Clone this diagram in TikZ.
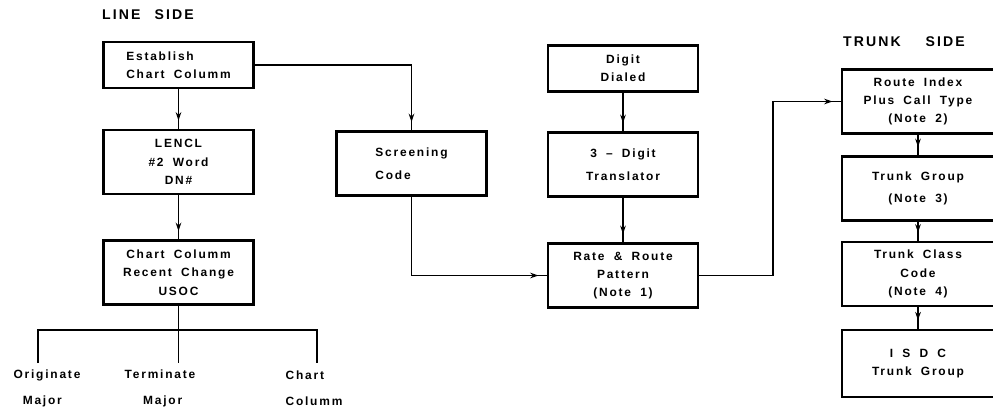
\documentclass[tikz,border=0pt]{standalone}
\usepackage{fontspec}
\newfontfamily\chartfont[LetterSpace=15,WordSpace=1.8]{Liberation Sans}
\usetikzlibrary{positioning, arrows.meta, decorations.markings}

\begin{document}
\begin{tikzpicture}[
    x=0.025cm, y=-0.025cm,
    box/.style={rectangle, draw, line width=1.5pt, minimum width=3.75cm, minimum height=1.6cm, inner sep=2pt, align=center, font=\chartfont\bfseries\fontsize{8.5}{13}\selectfont},
    lbl/.style={align=left, inner sep=1pt, font=\chartfont\bfseries\fontsize{8.5}{18.5}\selectfont},
    title/.style={inner sep=0pt, font=\chartfont\bfseries\fontsize{10}{12}\selectfont},
    line/.style={line width=1pt},
    flow/.style={line width=1pt, postaction={decorate}, decoration={markings, mark=at position -6pt with {\arrow{Stealth[length=6pt, width=4pt]}}}}
]
    \useasboundingbox (0,0) rectangle (993,409);

    % Titles
    \node[title] (lineside) at (148,15) {LINE\quad SIDE};
    \node[title] (trunkside) at (904,42) {TRUNK\quad\ SIDE};

    % Line side
    \node[box, minimum height=1.15cm, align=left] (estab) at (178.5,65) {Establish\\Chart Columm};
    \node[box] (lencl) at (178.5,162) {LENCL\\\#2 Word\\DN\#};
    \node[box] (usoc) at (178.5,272.5) {Chart Columm\\Recent Change\\USOC};
    \node[box, align=left] (screen) at (411.5,163.5) {Screening\\[3pt]Code};

    % Digit path
    \node[box, minimum height=1.15cm] (digit) at (623,68.5) {Digit\\Dialed};
    \node[box] (transl) at (623,164.5) {3 – Digit\\[3pt]Translator};
    \node[box] (rate) at (623,275.5) {Rate \& Route\\Pattern\\(Note 1)};

    % Trunk side
    \node[box, minimum width=3.8cm] (route) at (918,101.5) {Route Index\\Plus Call Type\\(Note 2)};
    \node[box, minimum width=3.8cm] (tgroup) at (918,188.5) {Trunk Group\\[3pt](Note 3)};
    \node[box, minimum width=3.8cm] (tclass) at (918,274) {Trunk Class\\Code\\(Note 4)};
    \node[box, minimum width=3.8cm, minimum height=1.68cm] (isdc) at (918,363.5) {I S D C\\Trunk Group};

    % Chart columm entries
    \node[lbl] (orig) at (47,388) {Originate\\\ Major};
    \node[lbl] (term) at (160,388) {Terminate\\\ \ Major};
    \node[lbl] (chart) at (314,388) {Chart\\Columm};
    \coordinate (brL) at (38,330);
    \coordinate (brR) at (317,330);

    % Connectors
    \draw[flow] (estab) -- (lencl);
    \draw[flow] (lencl) -- (usoc);
    \draw[flow] (estab.east) -| (screen.north);
    \draw[flow] (screen.south) |- (rate.west);
    \draw[flow] (digit) -- (transl);
    \draw[flow] (transl) -- (rate);
    \draw[flow] (rate.east) -- ++(74,0) |- (route.west);
    \draw[flow] (route) -- (tgroup);
    \draw[flow] (tgroup) -- (tclass);
    \draw[flow] (tclass) -- (isdc);

    \draw[line] (usoc.south) -- (usoc.south |- brL);
    \draw[line] (brL |- 0,363) -- (brL) -- (brR) -- (brR |- 0,363);
    \draw[line] (usoc.south |- brL) -- (usoc.south |- 0,363);
\end{tikzpicture}
\end{document}
